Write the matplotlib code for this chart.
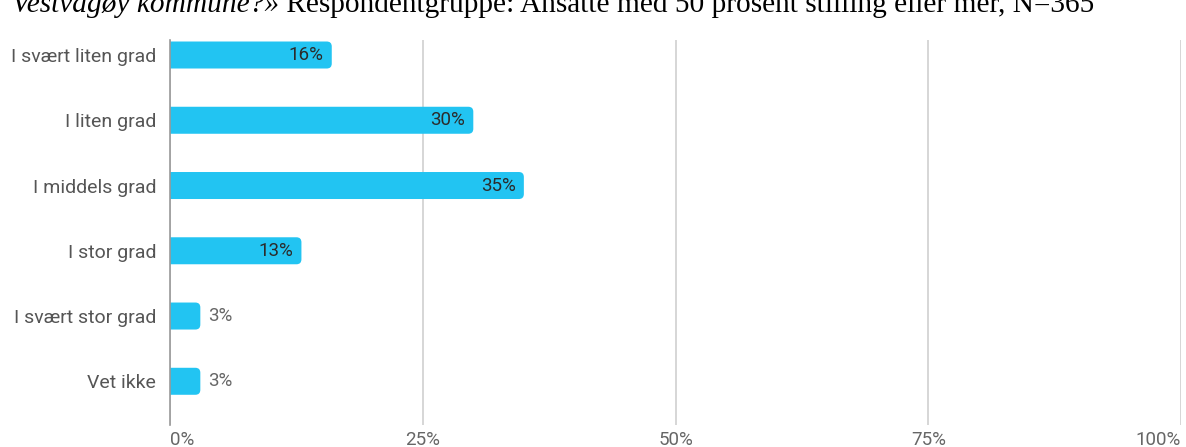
import matplotlib
matplotlib.use("Agg")
import matplotlib.pyplot as plt
from matplotlib.patches import PathPatch
from matplotlib.path import Path

categories = ["I svært liten grad", "I liten grad", "I middels grad",
              "I stor grad", "I svært stor grad", "Vet ikke"]
values = [16, 30, 35, 13, 3, 3]
tick_values = [0, 25, 50, 75, 100]
tick_labels = ["0%", "25%", "50%", "75%", "100%"]
title_italic = "Vestvågøy kommune?»"
title_rest = " Respondentgruppe: Ansatte med 50 prosent stilling eller mer, N=365"

BAR_COLOR = "#22C4F2"
W, H = 1186, 447
FONT = "Roboto"
fig = plt.figure(figsize=(W / 100, H / 100), dpi=100)
ax = fig.add_axes([170 / W, 22 / H, (1181 - 170) / W, 385 / H])

ax.set_xlim(0, 100)
n = len(categories)
ax.set_ylim(n - 1 + 0.67, -0.23)

fig.canvas.draw()
bbox = ax.get_window_extent()
px_x = bbox.width / 100.0
px_y = bbox.height / (n - 1 + 0.67 + 0.23)
bar_h = 27 / px_y
rx = 5 / px_x
ry = 5 / px_y


def rounded_bar(x0, yc, w, h):
    """Bar with square left end and rounded right corners."""
    y0, y1 = yc - h / 2, yc + h / 2
    x1 = x0 + w
    verts = [(x0, y0), (x1 - rx, y0), (x1, y0), (x1, y0 + ry),
             (x1, y1 - ry), (x1, y1), (x1 - rx, y1), (x0, y1), (x0, y0)]
    codes = [Path.MOVETO, Path.LINETO, Path.CURVE3, Path.CURVE3,
             Path.LINETO, Path.CURVE3, Path.CURVE3, Path.LINETO, Path.CLOSEPOLY]
    return PathPatch(Path(verts, codes), facecolor=BAR_COLOR,
                     edgecolor="none", zorder=3)


for i, v in enumerate(values):
    ax.add_patch(rounded_bar(0, i, v, bar_h))
    label = f"{v}%"
    if v >= 8:
        ax.text(v - 8 / px_x, i, label, ha="right", va="center",
                fontsize=13.5, family=FONT, color="#2b2b2b", zorder=4)
    else:
        ax.text(v + 8 / px_x, i, label, ha="left", va="center",
                fontsize=13.5, family=FONT, color="#666666", zorder=4)

ax.set_yticks(range(n))
ax.set_yticklabels(categories, family=FONT, fontsize=14, color="#555555")
ax.set_xticks(tick_values)
ax.set_xticklabels(tick_labels, family=FONT, fontsize=13.5, color="#666666")
ax.tick_params(axis="x", length=0, pad=4.5)
ax.tick_params(axis="y", length=0, pad=10)
xt = ax.get_xticklabels()
xt[0].set_horizontalalignment("left")
xt[0].set_x(-0.3)
xt[-1].set_horizontalalignment("right")
xt[-1].set_x(100.2)

ax.grid(axis="x", color="#d0d0d0", linewidth=1.2, zorder=0)
ax.set_axisbelow(True)
for s in ["top", "right", "bottom"]:
    ax.spines[s].set_visible(False)
ax.spines["left"].set_color("#999999")
ax.spines["left"].set_linewidth(1.2)
ax.spines["left"].set_zorder(5)

# title line, partly above the top edge
base_y = 1 - 12 / H
t1 = fig.text(12 / W, base_y, title_italic, family="Liberation Serif",
              style="italic", fontsize=21.2, color="black", ha="left", va="baseline")
fig.canvas.draw()
x_end = t1.get_window_extent().x1
fig.text(x_end / W, base_y, title_rest, family="Liberation Serif",
         fontsize=21.2, color="black", ha="left", va="baseline")

fig.savefig("out.png", dpi=100)
